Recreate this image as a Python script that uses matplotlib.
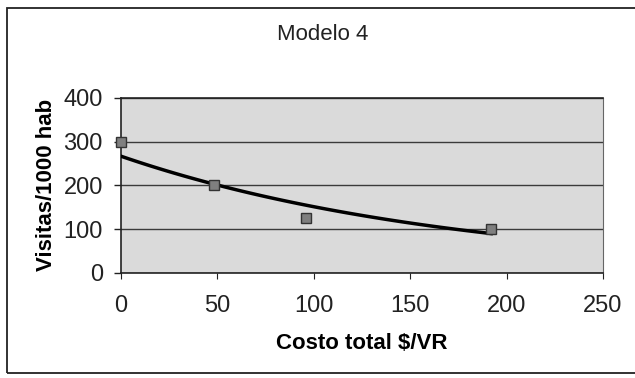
import numpy as np
import matplotlib
matplotlib.use('Agg')
import matplotlib.pyplot as plt
from matplotlib.patches import Rectangle

plt.rcParams['font.family'] = ['Liberation Sans', 'DejaVu Sans']

# data
costo = [0, 48, 96, 192]
visitas = [300, 200, 125, 100]
x_ticks = [0, 50, 100, 150, 200, 250]
y_ticks = [0, 100, 200, 300, 400]

# exponential trend line fitted to the points (as in the original)
b, ln_a = np.polyfit(costo, np.log(visitas), 1)
xt = np.linspace(min(costo), max(costo), 100)
yt = np.exp(ln_a) * np.exp(b * xt)

fig = plt.figure(figsize=(6.35, 3.78), dpi=100)
ax = fig.add_axes([121 / 635, 1 - 272.7 / 378, 482 / 635, 174.7 / 378])
ax.set_facecolor('#dadada')

ax.plot(xt, yt, color='black', lw=2.5, zorder=3)
ax.plot(costo, visitas, ls='none', marker='s', ms=7, mfc='#7f7f7f',
        mec='#333333', mew=1, zorder=4, clip_on=False)

ax.set_xlim(0, 250)
ax.set_ylim(0, 400)
ax.set_xticks(x_ticks)
ax.set_yticks(y_ticks)
ax.yaxis.grid(True, color='#3a3a3a', lw=1)
ax.set_axisbelow(True)

for s in ['left', 'bottom', 'top']:
    ax.spines[s].set_color('#222222')
    ax.spines[s].set_linewidth(1.2)
ax.spines['right'].set_color('#666666')
ax.spines['right'].set_linewidth(0.8)

ax.tick_params(axis='y', direction='out', length=5, width=1, pad=8,
               labelsize=17, colors='#222222')
ax.tick_params(axis='x', direction='out', length=4, width=0.8, pad=12,
               labelsize=17, colors='#222222')

ax.set_xlabel('Costo total $/VR', fontsize=16, fontweight='bold')
ax.xaxis.set_label_coords(0.5, -0.345)
ax.set_ylabel('Visitas/1000 hab', fontsize=16, fontweight='bold')
ax.yaxis.set_label_coords(-0.132, 0.5)

fig.text(323 / 635, 1 - 35 / 378, 'Modelo 4', ha='center', va='center',
         fontsize=16, color='#222222')

# outer chart frame
fig.patches.append(Rectangle((7 / 635, 5 / 378), 640 / 635, 365 / 378,
                             transform=fig.transFigure, fill=False,
                             ec='#222222', lw=1.3))

fig.savefig('out.png', dpi=100)
